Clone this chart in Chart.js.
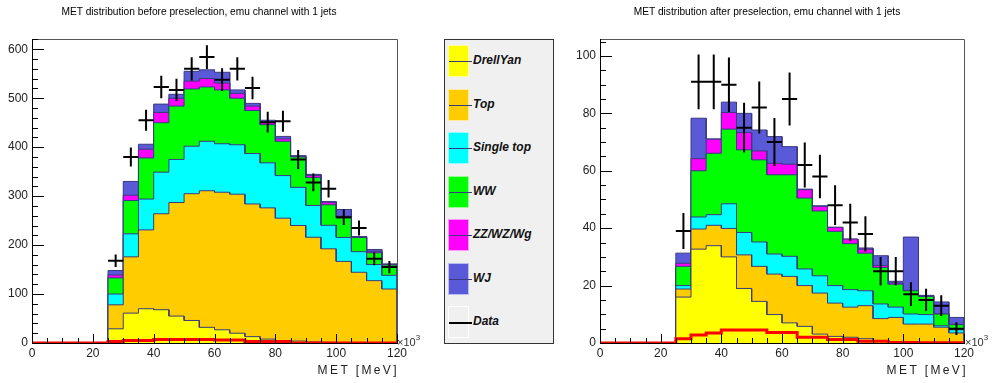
<!DOCTYPE html>
<html>
<head>
<meta charset="utf-8">
<script src="https://cdn.jsdelivr.net/npm/chart.js@4.4.1/dist/chart.umd.min.js"></script>
<style>
  body { margin: 0; background: #fff; font-family: "Liberation Sans", Arial, sans-serif; }
  #page { position: relative; width: 995px; height: 383px; overflow: hidden; }
  canvas { position: absolute; top: 0; }
  .title { position: absolute; top: 6px; font-size: 10.2px; color: #000; white-space: nowrap; text-align: center; }
  .xtitle { position: absolute; top: 363px; font-size: 12px; letter-spacing: 2.4px; color: #222; white-space: nowrap; transform: translateX(-100%); }
  .exp { position: absolute; top: 334px; font-size: 11px; color: #333; white-space: nowrap; }
  .exp sup { font-size: 8px; position: relative; top: -1px; }
  #legend { position: absolute; left: 444px; top: 39px; width: 108px; height: 303px; background: #f0f0f0; border: 1px solid #333; }
  .entry { position: absolute; left: 3px; height: 31px; width: 104px; }
  .swatch { position: absolute; left: 0; top: 0; width: 19px; height: 30px; border: 1px solid rgba(255,255,255,0.6); }
  .swatch i { position: absolute; left: 0; top: 15px; width: 23px; height: 1px; background: #3a3a80; }
  .entry span { position: absolute; left: 25px; top: 8px; font-size: 12px; font-weight: bold; font-style: italic; color: #111; }
</style>
</head>
<body>
<div id="page">
  <canvas id="before" width="420" height="383" style="left:0"></canvas>
  <canvas id="after" width="425" height="383" style="left:570px"></canvas>
  <div class="title" style="left:0; width:398px">MET distribution before preselection, emu channel with 1 jets</div>
  <div class="title" style="left:567px; width:400px">MET distribution after preselection, emu channel with 1 jets</div>
  <div class="xtitle" style="left:399px">MET [MeV]</div>
  <div class="xtitle" style="left:968px">MET [MeV]</div>
  <div class="exp" style="left:397px">×10<sup>3</sup></div>
  <div class="exp" style="left:965px">×10<sup>3</sup></div>
  <div id="legend"></div>
</div>
<script>
// bins of MET (x10^3 MeV), lower edges, width 5
const binStart = [25, 30, 35, 40, 45, 50, 55, 60, 65, 70, 75, 80, 85, 90, 95, 100, 105, 110, 115];
const binWidth = 5;

const samples = ['DrellYan', 'Top', 'Single top', 'WW', 'ZZ/WZ/Wg', 'WJ'];
const fillColors = ['#ffff00', '#ffcc00', '#00ffff', '#00ff00', '#ff00ff', '#5a5ad8'];

// before preselection
const dyBefore  = [29, 61, 70, 68, 55, 46, 32, 27, 20, 13, 8, 5, 4, 2, 1.4, 0.7, 0.5, 0.3, 0.3];
const topBefore = [49, 115, 161, 196, 232, 259, 279, 281, 284, 271, 268, 250, 236, 214, 191, 166, 144, 127, 110];
const stBefore  = [22, 47, 63, 85, 88, 97, 101, 99, 101, 103, 92, 87, 78, 65, 48, 49, 42, 33, 28];
const wwBefore  = [33, 68, 84, 101, 109, 117, 111, 110, 95, 88, 78, 70, 62, 57, 42, 40, 29, 24, 21];
const vvBefore  = [6, 11, 18, 21, 16, 16, 17, 14, 10, 9, 5, 5, 1.3, 4, 5, 3.4, 1.5, 3, 1.3];
const wjBefore  = [9, 28, 10, 17, 8, 20, 18, 22, 7, 5.5, 4, 5, 1.4, 2.5, 1.4, 13.6, 0.5, 3.7, 1];
const dataBefore = [168, 380, 455, 523, 517, 560, 584, 538, 560, 521, 451, 453, 375, 328, 315, 257, 235, 172, 155];
const redBefore  = [3, 5, 5, 7, 7, 7, 7, 6, 6, 3, 3, 3, 0, 0, 0, 0, 0, 0, 0];

// after preselection
const dyAfter  = [16, 32.7, 33.9, 30, 19, 14.5, 9.9, 7, 5.8, 3.1, 2.3, 2, 1.5, 0.6, 0.3, 0.3, 0.2, 0.2, 0.2];
const topAfter = [2.8, 7, 7.1, 9.9, 11.7, 12.2, 14.1, 16.2, 14.2, 14.3, 11.6, 10.5, 11.5, 7.9, 8.6, 6.3, 6.4, 5.3, 3.3];
const stAfter  = [1.2, 4.2, 3.7, 8.6, 7.8, 8.5, 7, 7, 5.8, 6, 6.1, 6.1, 5.2, 5.1, 3.6, 3.5, 3.3, 0.5, 1.1];
const wwAfter  = [6.7, 16.1, 21.4, 26, 28.8, 28.6, 27.6, 28.4, 24.7, 22.6, 18.9, 16, 13.1, 12.7, 8, 8.1, 6.3, 4.1, 1.8];
const vvAfter  = [1.1, 4.2, 4.9, 5.8, 6, 3.1, 4, 3.7, 2.9, 1.6, 1.4, 1.6, 1.4, 0.7, 0.4, 0.1, 0.2, 0.1, 0.1];
const wjAfter  = [3.5, 14.1, 0.1, 3.6, 6.7, 7.3, 9.3, 6.1, 0.2, 0.2, 0, 0, 0.4, 3.4, 0.6, 18.6, 0.2, 4.1, 2.4];
const dataAfter = [39, 91, 91, 90, 75, 82, 70, 85, 62, 58, 48, 42, 38, 25, 25, 17, 15, 13, 5];
const redAfter  = [1.5, 2.8, 3.5, 4.5, 4.5, 4.5, 3.7, 3.7, 2, 2, 1.2, 1.2, 0.6, 0.6, 0.2, 0.2, 0.1, 0.1, 0.1];

const yTicksBefore = [0, 100, 200, 300, 400, 500, 600];
const yTicksAfter = [0, 20, 40, 60, 80, 100];
const xTicks = [0, 20, 40, 60, 80, 100, 120];

// histogram outline as points at bin edges
function stepPoints(vals, fromZero) {
  const pts = [];
  if (fromZero) { pts.push({x: 0, y: 0}); }
  pts.push({x: binStart[0], y: 0});
  vals.forEach((v, i) => {
    pts.push({x: binStart[i], y: v});
    pts.push({x: binStart[i] + binWidth, y: v});
  });
  if (!fromZero) pts.push({x: binStart[binStart.length - 1] + binWidth, y: 0});
  return pts;
}

function crossPoints(vals) {
  const pts = [];
  vals.forEach((v, i) => {
    const c = binStart[i] + binWidth / 2, e = Math.sqrt(v);
    pts.push({x: binStart[i], y: v}, {x: binStart[i] + binWidth, y: v}, {x: c, y: null});
    pts.push({x: c, y: v - e}, {x: c, y: v + e}, {x: c, y: null});
  });
  return pts;
}

const rootFrame = {
  id: 'rootFrame',
  afterDatasetsDraw(chart, args, opts) {
    const {ctx, chartArea: a, scales: {x, y}} = chart;
    ctx.save();
    ctx.lineWidth = 1;
    ctx.strokeStyle = '#555';
    ctx.beginPath();
    ctx.moveTo(a.left, a.top + 0.5); ctx.lineTo(a.right + 0.5, a.top + 0.5); ctx.lineTo(a.right + 0.5, a.bottom);
    ctx.stroke();
    ctx.strokeStyle = '#000';
    ctx.beginPath();
    ctx.moveTo(a.left + 0.5, a.top); ctx.lineTo(a.left + 0.5, a.bottom);
    ctx.stroke();
    // y ticks
    ctx.beginPath();
    for (let v = 0; v <= y.max; v += opts.yMinor) {
      const py = Math.round(y.getPixelForValue(v)) + 0.5;
      const major = Math.abs(v / opts.yMajor - Math.round(v / opts.yMajor)) < 1e-6;
      ctx.moveTo(a.left, py); ctx.lineTo(a.left + (major ? 12 : 6), py);
    }
    // x ticks
    for (let v = 0; v <= 120; v += 5) {
      const px = Math.round(x.getPixelForValue(v)) + 0.5;
      ctx.moveTo(px, a.bottom); ctx.lineTo(px, a.bottom - (v % 20 === 0 ? 9 : 5));
    }
    ctx.stroke();
    ctx.restore();
  }
};

function makeChart(id, series, data, red, yMax, yTicks, yMajor, yMinor, yWidth, padRight) {
  const datasets = [];
  datasets.push({
    data: crossPoints(data), borderColor: '#000', borderWidth: 2, pointRadius: 0,
    spanGaps: false, fill: false
  });
  datasets.push({
    data: stepPoints(red, true), borderColor: '#ff0000', borderWidth: 3, pointRadius: 0, fill: false
  });
  let cum = binStart.map(() => 0);
  series.forEach((vals, k) => {
    cum = cum.map((c, i) => c + vals[i]);
    datasets.push({
      label: samples[k], data: stepPoints(cum, false),
      borderColor: '#3a3a80', borderWidth: 1, backgroundColor: fillColors[k],
      pointRadius: 0, fill: 'origin'
    });
  });
  return new Chart(document.getElementById(id), {
    type: 'line',
    data: {datasets},
    plugins: [rootFrame],
    options: {
      responsive: false, animation: false, devicePixelRatio: 1,
      layout: {padding: {top: 39, right: padRight, left: 0, bottom: 0}},
      plugins: {legend: {display: false}, tooltip: {enabled: false}, rootFrame: {yMajor, yMinor}},
      elements: {line: {tension: 0}},
      scales: {
        x: {
          type: 'linear', min: 0, max: 120,
          afterFit: s => { s.height = 40; },
          afterBuildTicks: s => { s.ticks = xTicks.map(v => ({value: v})); },
          grid: {display: false, drawTicks: false}, border: {display: true, color: '#000', width: 1},
          ticks: {padding: 3, color: '#222', font: {family: 'Liberation Sans', size: 12}, maxRotation: 0}
        },
        y: {
          type: 'linear', min: 0, max: yMax,
          afterFit: s => { s.width = yWidth; },
          afterBuildTicks: s => { s.ticks = yTicks.map(v => ({value: v})); },
          grid: {display: false, drawTicks: false}, border: {display: false},
          ticks: {padding: 4, color: '#222', font: {family: 'Liberation Sans', size: 12}}
        }
      }
    }
  });
}

makeChart('before', [dyBefore, topBefore, stBefore, wwBefore, vvBefore, wjBefore],
  dataBefore, redBefore, 621, yTicksBefore, 100, 20, 32, 23);
makeChart('after', [dyAfter, topAfter, stAfter, wwAfter, vvAfter, wjAfter],
  dataAfter, redAfter, 105.9, yTicksAfter, 20, 5, 30, 31);

// legend
const legend = document.getElementById('legend');
samples.concat(['Data']).forEach((name, k) => {
  const e = document.createElement('div');
  e.className = 'entry';
  e.style.top = (5 + k * 43.5) + 'px';
  const sw = document.createElement('div');
  sw.className = 'swatch';
  sw.style.background = k < samples.length ? fillColors[k] : '#f0f0f0';
  if (k === samples.length) sw.style.borderColor = '#fff';
  const ln = document.createElement('i');
  if (k === samples.length) { ln.style.background = '#000'; ln.style.height = '2px'; }
  sw.appendChild(ln);
  const t = document.createElement('span');
  t.textContent = name;
  e.appendChild(sw); e.appendChild(t);
  legend.appendChild(e);
});
</script>
</body>
</html>
